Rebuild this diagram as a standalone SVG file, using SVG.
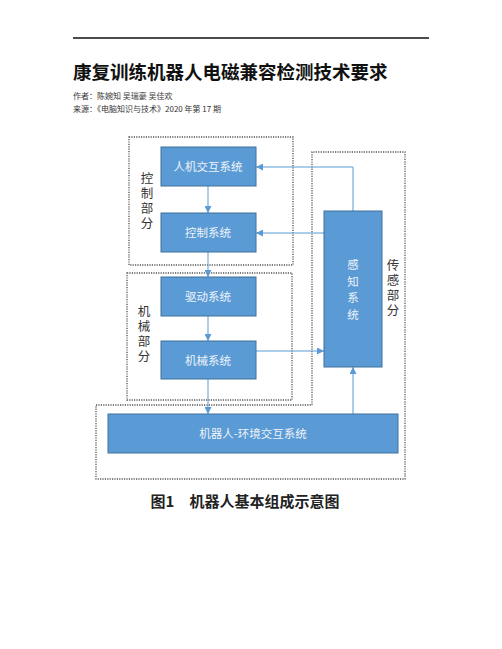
<svg xmlns="http://www.w3.org/2000/svg" width="502" height="649" viewBox="0 0 502 649">
<defs>
<style>
.box{fill:#5b9bd5;stroke:#41719c;stroke-width:1}
.bt{fill:#eef3fa;font-family:"Noto Sans CJK SC",sans-serif;font-size:11.5px;text-anchor:middle;dominant-baseline:central}
.vt{fill:#eef3fa;font-family:"Noto Sans CJK SC",sans-serif;font-size:11.5px;writing-mode:vertical-rl;letter-spacing:5px}
.lbl{fill:#333;font-family:"Noto Sans CJK SC",sans-serif;font-size:12.5px;writing-mode:vertical-rl;letter-spacing:2.5px}
.dot{fill:none;stroke:#555;stroke-width:1.3;stroke-dasharray:1.2 1.2}
.con{fill:none;stroke:#5b9bd5;stroke-width:1;marker-end:url(#ah)}
</style>
<marker id="ah" viewBox="0 0 10 10" refX="10" refY="5" markerWidth="7" markerHeight="7" markerUnits="userSpaceOnUse" orient="auto">
<path d="M0,0 L10,5 L0,10 z" fill="#5b9bd5"/>
</marker>
</defs>
<rect width="502" height="649" fill="#fff"/>
<line x1="73" y1="38" x2="429" y2="38" stroke="#111" stroke-width="1.5"/>
<text x="73" y="79" font-family="Noto Sans CJK SC,sans-serif" font-size="18.5" font-weight="bold" fill="#111">康复训练机器人电磁兼容检测技术要求</text>
<text x="73" y="99" font-family="Noto Sans CJK SC,sans-serif" font-size="8" fill="#333">作者：陈婉知 吴瑞豪 吴佳欢</text>
<text x="73" y="112" font-family="Noto Sans CJK SC,sans-serif" font-size="8" fill="#333">来源：《电脑知识与技术》2020 年第 17 期</text>

<g id="groups">
<rect class="dot" x="129" y="137" width="164" height="128"/>
<rect class="dot" x="127" y="273" width="165" height="127"/>
<path class="dot" d="M312,405 L312,152 L405,152 L405,479 L96,479 L96,405 Z"/>
</g>

<g id="connectors">
<line class="con" x1="208" y1="186" x2="208" y2="213"/>
<line class="con" x1="208" y1="252" x2="208" y2="277"/>
<line class="con" x1="208" y1="316" x2="208" y2="341"/>
<line class="con" x1="208" y1="379" x2="208" y2="414"/>
<line class="con" x1="256" y1="351" x2="324" y2="351"/>
<line class="con" x1="353" y1="414" x2="353" y2="367"/>
<polyline class="con" points="353,211 353,167 256,167"/>
<line class="con" x1="324" y1="233" x2="256" y2="233"/>
</g>

<g id="n-hmi"><rect class="box" x="161" y="147" width="95" height="39"/><text class="bt" x="208" y="166">人机交互系统</text></g>
<g id="n-ctrl"><rect class="box" x="161" y="213" width="95" height="39"/><text class="bt" x="208" y="232">控制系统</text></g>
<g id="n-drive"><rect class="box" x="161" y="277" width="95" height="39"/><text class="bt" x="208" y="296">驱动系统</text></g>
<g id="n-mech"><rect class="box" x="161" y="341" width="95" height="38"/><text class="bt" x="208" y="360">机械系统</text></g>
<g id="n-sense"><rect class="box" x="324" y="211" width="58" height="156"/>
<text class="vt" x="353" y="259">感知系统</text></g>
<g id="n-env"><rect class="box" x="108" y="414" width="290" height="39"/><text class="bt" x="253" y="433">机器人-环境交互系统</text></g>

<g id="labels">
<text class="lbl" x="147" y="172">控制部分</text>
<text class="lbl" x="144" y="305">机械部分</text>
<text class="lbl" x="393" y="259">传感部分</text>
</g>

<text x="245" y="500" font-family="Noto Sans CJK SC,sans-serif" font-size="15" font-weight="bold" fill="#222" text-anchor="middle" dominant-baseline="central">图1　机器人基本组成示意图</text>
</svg>
